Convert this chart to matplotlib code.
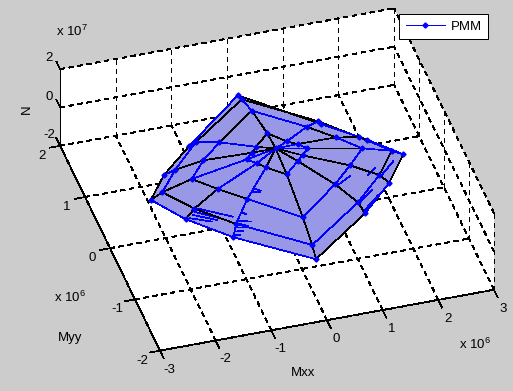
import matplotlib
matplotlib.use('agg')
import matplotlib.pyplot as plt
from mpl_toolkits.mplot3d.art3d import Poly3DCollection

plt.rcParams['font.family'] = ['Liberation Sans', 'DejaVu Sans']
plt.rcParams['mathtext.fontset'] = 'custom'
plt.rcParams['mathtext.rm'] = 'Liberation Sans'
plt.rcParams['mathtext.default'] = 'regular'
plt.rcParams['lines.antialiased'] = False

#tick values (Mxx, Myy in 1e6, N in 1e7)
mxx_ticks = [-3, -2, -1, 0, 1, 2, 3]
myy_ticks = [-2, -1, 0, 1, 2]
n_ticks = [-2, 0, 2]

#surface nodes, one list per ring, 12 meridians each
apex = (-0.02, 0.01, 1.6)
ring_n = [1.2, 0.8, 0.4, 0.05]
ring_mxx = [
    [0.026, 0.282, 0.441, 0.565, 0.433, 0.304, 0.016, -0.270, -0.390, -0.523, -0.387, -0.269],
    [0.013, 0.791, 1.184, 1.534, 1.194, 0.794, -0.004, -0.771, -1.178, -1.527, -1.185, -0.776],
    [0.001, 1.087, 1.635, 2.062, 1.661, 1.091, -0.007, -1.096, -1.660, -2.057, -1.668, -1.104],
    [0.022, 1.170, 1.801, 2.278, 1.818, 1.171, -0.007, -1.194, -1.834, -2.256, -1.836, -1.183],
]
ring_myy = [
    [0.446, 0.238, 0.154, 0.046, -0.064, -0.151, -0.353, -0.159, -0.057, 0.047, 0.149, 0.243],
    [1.040, 0.573, 0.288, 0.004, -0.261, -0.552, -1.037, -0.528, -0.252, 0.012, 0.309, 0.579],
    [1.415, 0.770, 0.349, 0.003, -0.393, -0.812, -1.427, -0.801, -0.390, 0.008, 0.366, 0.794],
    [1.619, 0.830, 0.400, 0.020, -0.442, -0.912, -1.575, -0.911, -0.432, 0.028, 0.433, 0.874],
]
#colour of every ring segment (node i to i+1) and meridian segment (apex outwards)
ring_colors = [
    'kkbbbbkkbbkk',
    'bkbbbbbkkbbk',
    'kkbkbbbkkbbk',
    'kbbkbkbbbkkb',
]
meridian_colors = [
    'kkbb', 'bbbb', 'bkkk', 'bkbb', 'kkkk', 'kkkk',
    'kkkk', 'kbbb', 'bbkk', 'bbkk', 'kkkb', 'kbbb',
]

#short blue strokes on the lower part of the surface, start and end of each
stroke_n = 0.4
stroke_mxx = [(-1.669, -1.092), (-1.690, -1.267), (-1.739, -1.383), (-1.809, -1.478),
              (-1.047, -0.835), (-1.080, -0.909), (-1.128, -0.978), (-1.180, -1.031),
              (-1.234, -1.119), (-0.912, -0.851), (-0.523, -0.421), (-0.578, -0.445),
              (0.870, 1.170), (1.129, 1.416), (1.103, 1.485), (1.481, 1.645), (1.701, 2.006)]
stroke_myy = [(-0.368, -0.659), (-0.443, -0.676), (-0.498, -0.666), (-0.548, -0.679),
              (-0.745, -0.807), (-0.791, -0.877), (-0.860, -0.896), (-0.934, -0.950),
              (-1.001, -1.011), (-0.617, -0.655), (-0.219, -0.285), (-0.273, -0.313),
              (-0.449, -0.314), (-0.807, -0.636), (-0.997, -0.747), (-0.356, -0.259), (-0.400, -0.187)]

W, H = 513, 391
LW = 0.5
fig = plt.figure(figsize=(W / 100, H / 100), dpi=100, facecolor='#cccccc')
#square axes placed so the box lands where it is in the picture
side = 488.3
ax = fig.add_axes([26.3 / W, -39.2 / H, side / W, side / H], projection='3d', computed_zorder=False)
ax.set_axis_off()
ax.patch.set_visible(False)
ax.set_proj_type('ortho')
ax.set_box_aspect((349, 350, 97))
ax.view_init(elev=37.7, azim=253.4)
ax.set_xlim(-3, 3)
ax.set_ylim(-2, 2)
ax.set_zlim(-2, 2)

#white back panes
panes = [
    [(-3, -2, -2), (3, -2, -2), (3, 2, -2), (-3, 2, -2)],
    [(-3, 2, -2), (3, 2, -2), (3, 2, 2), (-3, 2, 2)],
    [(3, -2, -2), (3, 2, -2), (3, 2, 2), (3, -2, 2)],
]
for pane in panes:
    ax.add_collection3d(Poly3DCollection([pane], facecolor='white', edgecolor='none', zorder=0.5))

dash = dict(color='k', lw=LW, ls=(0, (6, 6)), zorder=1)
for x in mxx_ticks:
    ax.plot([x, x], [-2, 2], [-2, -2], **dash)
    ax.plot([x, x], [2, 2], [-2, 2], **dash)
for y in myy_ticks:
    ax.plot([-3, 3], [y, y], [-2, -2], **dash)
    ax.plot([3, 3], [y, y], [-2, 2], **dash)
for z in n_ticks:
    ax.plot([-3, 3], [2, 2], [z, z], **dash)
    ax.plot([3, 3], [-2, 2], [z, z], **dash)

#solid axis lines and tick marks
solid = dict(color='k', lw=LW, zorder=2)
ax.plot([-3, 3], [-2, -2], [-2, -2], **solid)
ax.plot([-3, -3], [-2, 2], [-2, -2], **solid)
ax.plot([-3, -3], [2, 2], [-2, 2], **solid)
for x in mxx_ticks:
    ax.plot([x, x], [-2, -2.15], [-2, -2], **solid)
    ax.text(x, -2.37, -2, str(x), ha='center', va='center', fontsize=9.5)
for y in myy_ticks:
    ax.plot([-3, -3.18], [y, y], [-2, -2], **solid)
    ax.text(-3.377, y - 0.12, -2, str(y), ha='center', va='center', fontsize=9.5)
for z in n_ticks:
    ax.plot([-3, -3], [2, 2.15], [z, z], **solid)
    ax.text(-3.09, 2.23, z, str(z), ha='center', va='center', fontsize=9.5)

#surface fill
outline = list(zip(ring_mxx[3], ring_myy[3], [ring_n[3]] * 12))
ax.add_collection3d(Poly3DCollection([outline], facecolor='#9898e6', edgecolor='none', zorder=3))

#strokes
for xs, ys in zip(stroke_mxx, stroke_myy):
    ax.plot(xs, ys, [stroke_n, stroke_n], color='#0000ff', lw=LW, zorder=4)

#mesh
mesh_color = {'k': 'k', 'b': '#0000ff'}
for r in range(4):
    for i in range(12):
        j = (i + 1) % 12
        ax.plot([ring_mxx[r][i], ring_mxx[r][j]], [ring_myy[r][i], ring_myy[r][j]],
                [ring_n[r], ring_n[r]], color=mesh_color[ring_colors[r][i]], lw=LW, zorder=4)
for i in range(12):
    xs = [apex[0]] + [ring_mxx[r][i] for r in range(4)]
    ys = [apex[1]] + [ring_myy[r][i] for r in range(4)]
    zs = [apex[2]] + ring_n
    for s in range(4):
        ax.plot(xs[s:s + 2], ys[s:s + 2], zs[s:s + 2],
                color=mesh_color[meridian_colors[i][s]], lw=LW, zorder=4)

#node markers
for r in range(4):
    ax.plot(ring_mxx[r], ring_myy[r], [ring_n[r]] * 12, ls='none', marker='D', ms=2.6,
            color='#0000ff', zorder=5)
ax.plot([apex[0]], [apex[1]], [apex[2]], ls='none', marker='D', ms=2.6, color='#0000ff', zorder=5)

ax.plot([], [], [], color='#0000ff', lw=LW, marker='D', ms=2.6, label='PMM')
leg = ax.legend(loc='upper left', bbox_to_anchor=(399 / W, 1 - 14 / H), bbox_transform=fig.transFigure,
                borderaxespad=0, fancybox=False, framealpha=1, edgecolor='k', fontsize=9.5,
                handlelength=3, handletextpad=0.4, borderpad=0.5)
leg.get_frame().set_linewidth(0.72)

#axis names and exponents
fig.text(303 / W, 1 - 373 / H, 'Mxx', ha='center', va='center', fontsize=9.5)
fig.text(70 / W, 1 - 338 / H, 'Myy', ha='center', va='center', fontsize=9.5)
fig.text(27 / W, 1 - 109 / H, 'N', ha='center', va='center', rotation=90, fontsize=9.5)
fig.text(72 / W, 1 - 31 / H, 'x 10$^{7}$', ha='center', va='center', fontsize=9.5)
fig.text(70 / W, 1 - 297 / H, 'x 10$^{6}$', ha='center', va='center', fontsize=9.5)
fig.text(475 / W, 1 - 344 / H, 'x 10$^{6}$', ha='center', va='center', fontsize=9.5)

fig.savefig('out.png', dpi=100, facecolor=fig.get_facecolor())
